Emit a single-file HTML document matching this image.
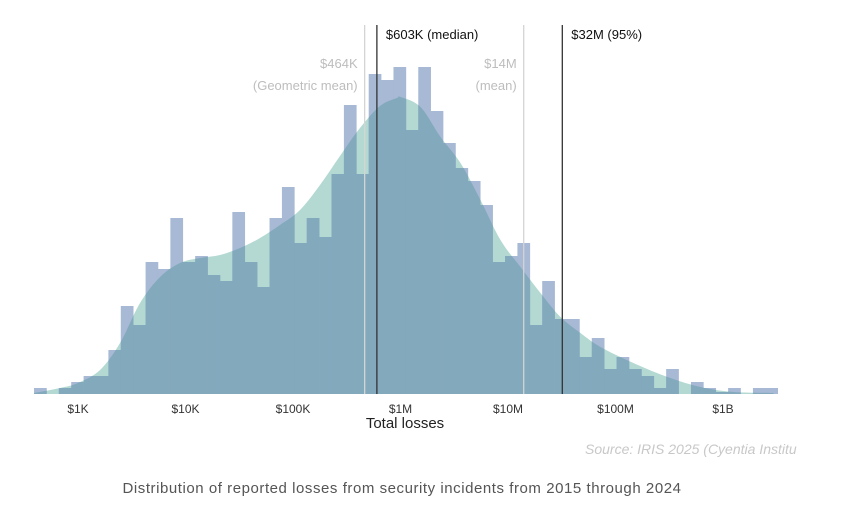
<!DOCTYPE html>
<html><head><meta charset="utf-8">
<style>
html,body{margin:0;padding:0;background:#fff;}
svg{display:block;font-family:"Liberation Sans",sans-serif;}
</style></head>
<body>
<svg id="chart" width="841" height="508" viewBox="0 0 841 508" xmlns="http://www.w3.org/2000/svg">
<defs>
<clipPath id="densClip"><path id="densClipPath" d=""/></clipPath>
<clipPath id="srcClip"><rect x="0" y="430" width="797" height="30"/></clipPath>
</defs>
<g id="density-layer"></g>
<g id="bar-layer"></g>
<g id="overlap-layer" clip-path="url(#densClip)"></g>
<g id="ref-layer"></g>
<g id="tick-layer"></g>
<text x="405" y="428" text-anchor="middle" font-size="15" fill="#222">Total losses</text>
<text x="585" y="454" font-size="14" font-style="italic" fill="#c8c8c8" clip-path="url(#srcClip)">Source: IRIS 2025 (Cyentia Institute)</text>
<text x="402" y="493" text-anchor="middle" font-size="15" letter-spacing="0.55" fill="#555">Distribution of reported losses from security incidents from 2015 through 2024</text>
</svg>
<script>
// Histogram: bins on log10 scale
const binStart = 2.591;
const binStep = 0.1153;
const binCounts = [6,0,6,12,18,18,44,88,69,132,125,176,132,138,119,113,182,132,107,176,207,151,176,157,220,289,220,320,314,327,264,327,283,251,226,213,189,132,138,151,69,113,75,75,37,56,25,37,25,18,6,25,0,12,6,2,6,0,6,6];
// Density curve (log10 loss, density in count units)
const densLog = [2.591,2.833,3.0,3.205,3.391,3.577,3.763,3.949,4.135,4.321,4.507,4.693,4.879,5.065,5.251,5.437,5.623,5.809,5.967,6.0,6.186,6.372,6.558,6.744,6.930,7.116,7.302,7.488,7.674,7.860,8.167,8.484,8.791,9.098,9.470];
const densVal = [1,6,11,24,51,91,117,131,136,139,146,156,169,184,209,238,266,288,296,297,287,257,231,194,154,127,101,77,61,47,31,17,7,2,1];
// Reference statistics
const refValues = [464000,603000,14000000,32000000];
const refDark = [false,true,false,true];
const refLabels = [["$464K","(Geometric mean)"],["$603K (median)"],["$14M","(mean)"],["$32M (95%)"]];
const tickValues = [1e3,1e4,1e5,1e6,1e7,1e8,1e9];
const tickLabels = ["$1K","$10K","$100K","$1M","$10M","$100M","$1B"];

const NS="http://www.w3.org/2000/svg";
const baseY=394;
function xLog(l){return 78+(l-3)*107.5;}
function xVal(v){return xLog(Math.log10(v));}
function yCount(c){return baseY-c;}
function mk(tag,attrs,parent){const e=document.createElementNS(NS,tag);for(const k in attrs)e.setAttribute(k,attrs[k]);parent.appendChild(e);return e;}

// density (Catmull-Rom smoothing)
const pts=densLog.map((l,i)=>[xLog(l),yCount(densVal[i])]);
let d="M"+pts[0][0]+","+baseY+" L"+pts[0][0]+","+pts[0][1];
for(let i=0;i<pts.length-1;i++){
  const p0=pts[Math.max(0,i-1)],p1=pts[i],p2=pts[i+1],p3=pts[Math.min(pts.length-1,i+2)];
  const c1x=p1[0]+(p2[0]-p0[0])/6,c1y=p1[1]+(p2[1]-p0[1])/6;
  const c2x=p2[0]-(p3[0]-p1[0])/6,c2y=p2[1]-(p3[1]-p1[1])/6;
  d+=" C"+c1x+","+c1y+" "+c2x+","+c2y+" "+p2[0]+","+p2[1];
}
d+=" L"+pts[pts.length-1][0]+","+baseY+" Z";
const dl=document.getElementById('density-layer');
const dp=mk('path',{d:d,fill:'#b4d9d2'},dl);


document.getElementById('densClipPath').setAttribute('d',d);

const bl=document.getElementById('bar-layer'), ol=document.getElementById('overlap-layer');
binCounts.forEach((c,i)=>{
  if(c<=0)return;
  const x0=xLog(binStart+i*binStep),x1=xLog(binStart+(i+1)*binStep);
  const r=mk('rect',{x:x0,y:yCount(c),width:x1-x0+0.3,height:c,fill:'#a7b9d4'},bl);
  
  
  const r2=mk('rect',{x:x0,y:yCount(c),width:x1-x0+0.3,height:c,fill:'#83a9bd'},ol);
  
  
});

const rl=document.getElementById('ref-layer');
refValues.forEach((v,i)=>{
  const x=xVal(v);
  const ln=mk('line',{x1:x,x2:x,y1:25,y2:baseY,stroke:refDark[i]?'#333':'#d4d4d4','stroke-width':1.3},rl);
  
  
  const labs=refLabels[i];
  labs.forEach((t,j)=>{
    let tx;
    if(refDark[i]) tx=mk('text',{x:x+9,y:39,'font-size':13,fill:'#111'},rl);
    else tx=mk('text',{x:x-7,y:68+j*22,'font-size':13,fill:'#bdbdbd','text-anchor':'end'},rl);
    tx.textContent=t;
    
    
  });
});

const tl=document.getElementById('tick-layer');
tickValues.forEach((v,i)=>{
  const t=mk('text',{x:xVal(v),y:413,'font-size':12,fill:'#333','text-anchor':'middle'},tl);
  t.textContent=tickLabels[i];
  
  
});
</script>
</body></html>
